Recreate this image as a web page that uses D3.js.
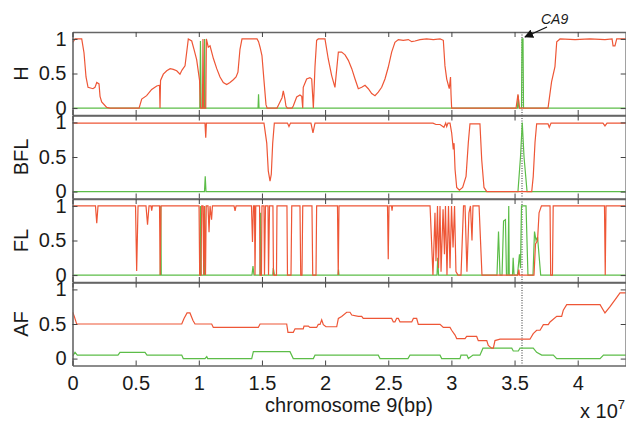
<!DOCTYPE html>
<html>
<head>
<meta charset="utf-8">
<script src="https://cdn.jsdelivr.net/npm/d3@7"></script>
<style>
  body { margin: 0; background: #fff; }
  text { font-family: "Liberation Sans", Arial, sans-serif; fill: #1a1a1a; }
</style>
</head>
<body>
<div class="canvas"></div>
<script>
// positions are in units of 10^7 bp, values are [pos, value]
const hRed = [[0.002,0.95],[0.020,1],[0.073,1],[0.091,0.8],[0.107,0.45],[0.123,0.30],[0.162,0.28],[0.178,0.30],[0.192,0.37],[0.210,0.35],[0.218,0.17],[0.231,0.09],[0.271,0.01],[0.297,0],
  [0.527,0],[0.548,0.13],[0.587,0.18],[0.627,0.27],[0.667,0.32],[0.689,0.33],[0.693,0],[0.697,0.40],[0.719,0.49],[0.746,0.54],[0.773,0.57],[0.798,0.56],[0.825,0.54],[0.851,0.49],[0.867,0.55],[0.891,0.61],
  [0.917,1],[0.944,0.97],[0.962,0.85],[0.983,0.70],[1.006,0.40],[1.013,0],[1.029,0],[1.033,1],[1.039,0],[1.055,0],[1.060,1],[1.075,0.88],[1.089,0.9],[1.115,0.72],[1.142,0.57],[1.168,0.45],[1.194,0.37],
  [1.221,0.34],[1.247,0.37],[1.273,0.41],[1.295,0.45],[1.310,0.52],[1.326,0.85],[1.342,1],[1.461,1],[1.473,0.96],[1.485,0.88],[1.500,0.76],[1.516,0.4],[1.532,0.05],[1.541,0],[1.619,0],[1.635,0.06],
  [1.659,0.15],[1.669,0.25],[1.682,0.13],[1.690,0.03],[1.701,0],[1.738,0],[1.748,0.03],[1.775,0.16],[1.801,0.19],[1.815,0.17],[1.823,0],[1.827,0.3],[1.854,0.42],[1.880,0.44],[1.894,0.42],[1.907,0],
  [1.920,0.6],[1.933,0.98],[1.946,1],[1.999,1],[2.025,0.71],[2.052,0.47],[2.078,0.30],[2.105,0.81],[2.131,0.81],[2.158,0.77],[2.184,0.69],[2.211,0.57],[2.237,0.42],[2.263,0.28],[2.290,0.30],[2.316,0.33],
  [2.342,0.28],[2.369,0.21],[2.395,0.18],[2.421,0.23],[2.448,0.30],[2.474,0.42],[2.500,0.59],[2.527,0.81],[2.553,0.95],[2.580,0.99],[2.619,0.98],[2.659,0.99],[2.686,0.96],[2.712,0.97],[2.751,0.99],
  [2.804,1],[2.857,0.99],[2.910,1],[2.936,0.98],[2.949,0.61],[2.963,0.42],[2.983,0.28],[2.993,0.45],[2.997,0.2],[3.002,0],[3.512,0],[3.527,0.2],[3.539,0],[3.765,0],[3.793,0.38],[3.820,0.6],[3.834,0.96],
  [3.860,1],[3.979,0.99],[4.097,1],[4.216,0.99],[4.272,1],[4.280,0.9],[4.295,0.9],[4.309,1],[4.382,1]]
const hGreen = [[0,0],[1.008,0],[1.013,0.97],[1.019,0],[1.041,0],[1.046,1],[1.050,0],[1.469,0],[1.473,0.2],[1.477,0],[3.523,0],[3.529,0.18],[3.535,0],[3.555,0],[3.559,1],[3.567,1],[3.571,0],[4.382,0]]

const bflRed = [[0,0.99],[1.049,0.99],[1.055,0.78],[1.060,0.99],[1.516,0.99],[1.538,0.7],[1.550,0.3],[1.564,0.15],[1.574,0.25],[1.585,0.7],[1.598,0.99],[1.702,0.99],[1.714,0.94],[1.726,0.99],
  [1.888,0.99],[1.904,0.85],[1.920,0.99],[2.854,0.99],[2.878,0.97],[2.910,0.97],[2.941,0.93],[2.955,0.99],[2.963,0.94],[2.973,0.99],[2.989,0.99],[3.002,0.85],[3.015,0.61],[3.021,0.7],[3.029,0.32],
  [3.042,0.06],[3.063,0.02],[3.089,0.06],[3.116,0.22],[3.134,0.71],[3.147,0.98],[3.226,0.98],[3.240,0.46],[3.258,0.06],[3.280,0],[3.636,0],[3.648,0.22],[3.662,0.71],[3.675,0.98],[3.765,0.98],
  [3.775,0.93],[3.789,0.99],[4.200,0.99],[4.216,0.95],[4.232,0.99],[4.382,0.99]]
const bflGreen = [[0,0],[1.045,0],[1.051,0.22],[1.057,0],[3.527,0],[3.547,0.5],[3.561,1],[3.575,0.5],[3.599,0],[4.382,0]]

const flRed = [[0,1],[0.182,1],[0.192,0.75],[0.202,1],[0.499,1],[0.508,0.06],[0.519,1],[0.582,1],[0.594,0.73],[0.606,1],[0.622,1],[0.627,0.93],[0.633,1],[0.689,1],[0.694,0],[0.701,1],
  [1.002,1],[1.007,0],[1.017,0],[1.023,1],[1.033,1],[1.039,0],[1.044,1],[1.053,0],[1.059,1],[1.073,1],[1.081,0.62],[1.089,1],[1.101,0.8],[1.108,1],[1.279,1],[1.287,0.93],[1.295,1],
  [1.417,1],[1.425,0.48],[1.433,1],[1.441,1],[1.445,0],[1.451,1],[1.481,1],[1.485,0],[1.496,0],[1.500,1],[1.516,1],[1.520,0],[1.528,1],[1.548,1],[1.552,0],[1.560,1],[1.587,1],[1.591,0],
  [1.615,0],[1.619,1],[1.698,1],[1.702,0],[1.730,0],[1.736,1],[1.801,1],[1.807,0],[1.817,0],[1.823,1],[1.896,1],[1.902,0],[1.928,0],[1.933,1],[2.098,1],[2.104,0],[2.110,1],[2.494,1],
  [2.500,0.23],[2.506,1],[2.526,1],[2.530,0.93],[2.534,1],[2.831,1],[2.854,0],[2.870,0.9],[2.878,0.2],[2.890,1],[2.898,0.1],[2.910,1],[2.918,0.05],[2.934,0.95],[2.945,0.3],[2.953,1],
  [2.965,0],[2.977,1],[2.989,0.1],[3.001,1],[3.013,0.4],[3.025,1],[3.036,0.05],[3.052,0],[3.076,0],[3.096,1],[3.108,1],[3.123,0.05],[3.139,0.9],[3.151,1],[3.163,0.5],[3.171,1],[3.219,1],
  [3.242,0],[3.527,0],[3.534,0.08],[3.539,0],[3.654,0],[3.666,0.45],[3.682,0.5],[3.694,0.9],[3.713,1],[3.781,1],[3.786,0],[3.800,0],[3.806,1],[4.212,1],[4.218,0],[4.224,1],[4.382,1]]
const flGreen = [[0,0],[0.695,0],[0.699,1],[0.703,0],[1.009,0],[1.013,1],[1.019,0],[1.043,0],[1.047,1],[1.051,0],[1.421,0],[1.429,0.13],[1.437,0],[1.485,0],[1.489,0.9],[1.494,0],
  [1.586,0],[1.590,0.1],[1.599,0],[2.102,0],[2.106,0.08],[2.110,0],[2.886,0],[2.892,0.25],[2.898,0],[3.361,0],[3.373,0.63],[3.385,0],[3.401,0],[3.413,0.78],[3.428,0.8],[3.436,0],
  [3.448,0],[3.454,1],[3.458,0],[3.484,0],[3.489,0.25],[3.496,0],[3.523,0],[3.539,0.3],[3.547,0.1],[3.555,1],[3.591,1],[3.606,0],[3.646,0],[3.658,0.63],[3.670,0.5],[3.682,0.55],[3.707,0],[4.382,0]]

const afRed = [[0.002,0.67],[0.016,0.6],[0.033,0.5],[0.865,0.5],[0.883,0.58],[0.907,0.66],[0.930,0.66],[0.954,0.55],[0.970,0.5],[1.102,0.5],[1.115,0.45],[1.471,0.45],[1.485,0.5],
  [1.696,0.5],[1.706,0.38],[1.748,0.38],[1.762,0.43],[1.827,0.43],[1.833,0.47],[1.867,0.47],[1.880,0.45],[1.933,0.45],[1.946,0.495],[1.960,0.495],[1.973,0.56],[1.986,0.49],[2.007,0.46],
  [2.092,0.46],[2.105,0.58],[2.131,0.61],[2.171,0.67],[2.197,0.67],[2.211,0.63],[2.263,0.61],[2.290,0.61],[2.302,0.58],[2.527,0.58],[2.540,0.53],[2.553,0.53],[2.566,0.58],[2.580,0.58],
  [2.593,0.53],[2.686,0.53],[2.699,0.58],[2.725,0.58],[2.738,0.495],[2.910,0.495],[2.936,0.45],[2.989,0.45],[3.002,0.41],[3.029,0.34],[3.042,0.29],[3.108,0.29],[3.121,0.32],[3.200,0.32],
  [3.213,0.26],[3.280,0.26],[3.292,0.19],[3.319,0.15],[3.332,0.15],[3.345,0.26],[3.385,0.28],[3.622,0.28],[3.648,0.36],[3.675,0.41],[3.702,0.41],[3.728,0.49],[3.767,0.49],[3.781,0.53],
  [3.834,0.61],[3.873,0.61],[3.886,0.7],[3.913,0.78],[4.177,0.78],[4.216,0.66],[4.256,0.75],[4.295,0.85],[4.335,0.95],[4.382,0.95]]
const afGreen = [[0.002,0.04],[0.020,0.09],[0.038,0.05],[0.360,0.05],[0.376,0.09],[0.574,0.09],[0.590,0.05],[0.865,0.05],[0.877,0],[1.049,0],[1.063,0.03],[1.070,0],[1.419,0],[1.432,0.1],
  [1.722,0.1],[1.748,0],[1.907,0],[1.920,0.05],[2.421,0.05],[2.435,0],[2.656,0],[2.672,0.05],[2.910,0.05],[2.923,0],[3.068,0],[3.076,0.05],[3.123,0.05],[3.134,0],[3.171,0.05],[3.226,0.05],
  [3.250,0.15],[3.478,0.15],[3.490,0.11],[3.530,0.11],[3.543,0.15],[3.648,0.15],[3.675,0.09],[3.715,0.05],[3.807,0.05],[3.834,0],[4.177,0],[4.204,0.05],[4.382,0.05]]

const panelNames = ['H', 'BFL', 'FL', 'AF']
const redSeries = [hRed, bflRed, flRed, afRed]
const greenSeries = [hGreen, bflGreen, flGreen, afGreen]
const xTicks = [0, 0.5, 1, 1.5, 2, 2.5, 3, 3.5, 4]
const yTicks = [0, 0.5, 1]
const ca9Pos = 3.559

const red = '#ee5636'
const green = '#5cbd48'
const axisColor = '#666'

const svg = d3.select('.canvas')
  .append('svg')
  .attr('width', 626)
  .attr('height', 422)

const left = 72.5
const xMax = 4.38
const panelTop = 32
const panelStep = 83.5
const panelHeight = 83

const x = d3.scaleLinear().domain([0, xMax]).range([left, left + xMax * 126.3])
const right = x(xMax)

panelNames.forEach((name, i) => {
  const top = panelTop + i * panelStep
  const y = d3.scaleLinear().domain([-0.1, 1.1]).range([top + panelHeight, top])
  const g = svg.append('g')

  g.append('clipPath').attr('id', 'clip' + i)
    .append('rect').attr('x', left).attr('y', top).attr('width', right - left).attr('height', panelHeight)

  const plot = g.append('g').attr('clip-path', `url(#clip${i})`)

  // dotted marker at CA9
  plot.append('line')
    .attr('x1', x(ca9Pos)).attr('x2', x(ca9Pos))
    .attr('y1', top).attr('y2', top + panelHeight)
    .attr('stroke', '#333').attr('stroke-width', 1).attr('stroke-dasharray', '1,1.5')

  const line = d3.line().x(d => x(d[0])).y(d => y(d[1]))

  plot.append('path').datum(greenSeries[i])
    .attr('d', line).attr('fill', 'none').attr('stroke', green).attr('stroke-width', 1.2)
  plot.append('path').datum(redSeries[i])
    .attr('d', line).attr('fill', 'none').attr('stroke', red).attr('stroke-width', 1.2)

  // axes (ticks point inwards like matlab)
  const leftAxis = g.append('g').attr('transform', `translate(${left},0)`)
    .call(d3.axisLeft(y).tickValues(yTicks).tickSizeInner(-5).tickSizeOuter(0).tickPadding(6).tickFormat(d3.format('')))
  const rightAxis = g.append('g').attr('transform', `translate(${right},0)`)
    .call(d3.axisRight(y).tickValues(yTicks).tickSizeInner(-5).tickSizeOuter(0).tickFormat(''))
  const topAxis = g.append('g').attr('transform', `translate(0,${top})`)
    .call(d3.axisTop(x).tickValues(xTicks).tickSizeInner(-5).tickSizeOuter(0).tickFormat(''))
  const bottomAxis = g.append('g').attr('transform', `translate(0,${top + panelHeight})`)
    .call(d3.axisBottom(x).tickValues(xTicks).tickSizeInner(-5).tickSizeOuter(0).tickPadding(10)
      .tickFormat(i === panelNames.length - 1 ? d3.format('') : ''))

  ;[leftAxis, rightAxis, topAxis, bottomAxis].forEach(a => {
    a.select('.domain').attr('stroke', axisColor).attr('stroke-width', 1.6)
    a.selectAll('.tick line').attr('stroke', '#444').attr('stroke-width', 1)
    a.selectAll('text').attr('font-size', 20).attr('font-family', '"Liberation Sans", Arial, sans-serif').attr('fill', '#1a1a1a')
  })

  // panel label
  const yc = y(0.5)
  svg.append('text')
    .attr('x', 28).attr('y', yc)
    .attr('transform', `rotate(-90, 28, ${yc})`)
    .attr('text-anchor', 'middle')
    .attr('font-size', 20)
    .text(name)
})

// x axis label
svg.append('text')
  .attr('x', 349).attr('y', 412)
  .attr('text-anchor', 'middle')
  .attr('font-size', 20)
  .text('chromosome 9(bp)')

const expo = svg.append('text')
  .attr('x', 580).attr('y', 418)
  .attr('font-size', 20)
expo.append('tspan').text('x 10')
expo.append('tspan').attr('dy', -9).attr('font-size', 13).text('7')

// CA9 annotation
svg.append('defs').append('marker')
  .attr('id', 'arrow')
  .attr('viewBox', '0 0 10 10')
  .attr('refX', 9).attr('refY', 5)
  .attr('markerWidth', 9).attr('markerHeight', 9)
  .attr('markerUnits', 'userSpaceOnUse')
  .attr('orient', 'auto')
  .append('path').attr('d', 'M0,0 L10,5 L0,10 Z').attr('fill', '#111')

const tipX = x(ca9Pos) + 3
svg.append('line')
  .attr('x1', tipX + 22).attr('y1', 27)
  .attr('x2', tipX).attr('y2', 37)
  .attr('stroke', '#111').attr('stroke-width', 1.3)
  .attr('marker-end', 'url(#arrow)')

svg.append('text')
  .attr('x', tipX + 16).attr('y', 24)
  .attr('font-size', 14)
  .attr('font-style', 'italic')
  .text('CA9')
</script>
</body>
</html>
